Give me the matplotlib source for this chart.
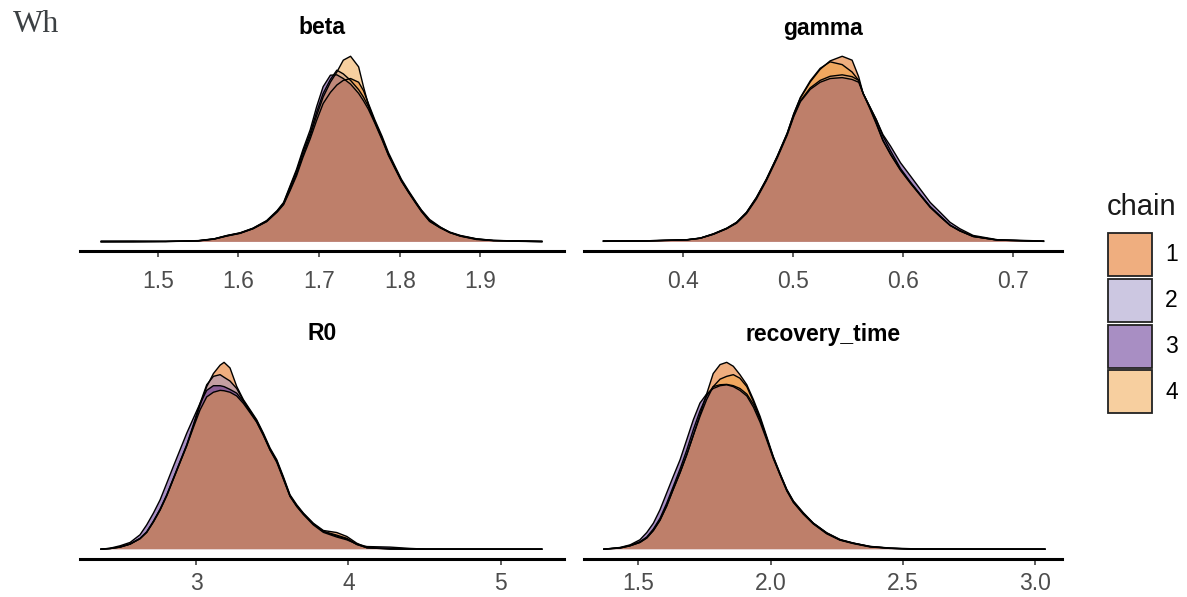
import numpy as np
import matplotlib
matplotlib.use("Agg")
import matplotlib.pyplot as plt
from matplotlib.patches import Patch
from matplotlib.transforms import Bbox

plt.rcParams['font.family'] = ['Liberation Sans', 'DejaVu Sans']

# chain colours (drawn at alpha 0.5, as in the bayesplot overlay)
chain_labels = ['1', '2', '3', '4']
chain_colors = ['#e15f01', '#9b91c5', '#531f89', '#f1a141']

# ---- beta ----
beta_x = [1.430, 1.470, 1.510, 1.550, 1.570, 1.586, 1.602, 1.618, 1.635, 1.648,
          1.656, 1.664, 1.672, 1.680, 1.689, 1.697, 1.705, 1.714, 1.722, 1.730,
          1.739, 1.749, 1.755, 1.761, 1.769, 1.778, 1.786, 1.794, 1.802, 1.811,
          1.819, 1.827, 1.837, 1.850, 1.862, 1.875, 1.895, 1.916, 1.950, 1.976]
beta_c1 = [0.000, 0.001, 0.002, 0.005, 0.015, 0.032, 0.046, 0.070, 0.108, 0.160,
           0.200, 0.275, 0.355, 0.455, 0.555, 0.655, 0.745, 0.805, 0.845, 0.870,
           0.880, 0.860, 0.815, 0.747, 0.658, 0.569, 0.480, 0.408, 0.337, 0.274,
           0.221, 0.168, 0.114, 0.078, 0.052, 0.034, 0.016, 0.007, 0.003, 0.000]
beta_c2 = [0.000, 0.000, 0.001, 0.005, 0.015, 0.033, 0.047, 0.072, 0.112, 0.165,
           0.208, 0.295, 0.380, 0.485, 0.585, 0.700, 0.800, 0.875, 0.925, 0.905,
           0.870, 0.820, 0.780, 0.730, 0.645, 0.555, 0.468, 0.398, 0.328, 0.265,
           0.212, 0.162, 0.110, 0.075, 0.049, 0.031, 0.014, 0.006, 0.002, 0.000]
beta_c3 = [0.004, 0.004, 0.002, 0.006, 0.016, 0.034, 0.048, 0.073, 0.114, 0.168,
           0.212, 0.301, 0.390, 0.497, 0.604, 0.729, 0.836, 0.898, 0.900, 0.880,
           0.850, 0.800, 0.760, 0.715, 0.640, 0.550, 0.465, 0.395, 0.327, 0.266,
           0.217, 0.170, 0.120, 0.080, 0.050, 0.030, 0.012, 0.006, 0.005, 0.002]
beta_c4 = [0.000, 0.000, 0.001, 0.004, 0.014, 0.031, 0.045, 0.070, 0.110, 0.162,
           0.204, 0.282, 0.365, 0.468, 0.572, 0.680, 0.780, 0.860, 0.915, 0.979,
           1.000, 0.943, 0.836, 0.740, 0.650, 0.560, 0.472, 0.400, 0.330, 0.268,
           0.215, 0.163, 0.110, 0.076, 0.050, 0.032, 0.015, 0.007, 0.004, 0.003]

# ---- gamma ----
gamma_x = [0.328, 0.367, 0.404, 0.416, 0.428, 0.440, 0.449, 0.458, 0.467, 0.476,
           0.486, 0.495, 0.501, 0.507, 0.516, 0.525, 0.534, 0.545, 0.554, 0.560,
           0.564, 0.570, 0.576, 0.582, 0.589, 0.598, 0.607, 0.616, 0.625, 0.634,
           0.643, 0.652, 0.664, 0.686, 0.728]
gamma_c1 = [0.004, 0.005, 0.011, 0.020, 0.043, 0.073, 0.105, 0.159, 0.239, 0.337,
            0.462, 0.586, 0.690, 0.775, 0.862, 0.930, 0.975, 1.000, 0.979, 0.889,
            0.800, 0.720, 0.635, 0.545, 0.470, 0.385, 0.315, 0.250, 0.185, 0.135,
            0.088, 0.058, 0.028, 0.009, 0.002]
gamma_c2 = [0.003, 0.004, 0.010, 0.019, 0.041, 0.071, 0.102, 0.155, 0.235, 0.333,
            0.458, 0.580, 0.680, 0.760, 0.830, 0.870, 0.892, 0.900, 0.890, 0.870,
            0.800, 0.729, 0.658, 0.570, 0.490, 0.395, 0.322, 0.255, 0.190, 0.140,
            0.090, 0.060, 0.029, 0.009, 0.002]
gamma_c3 = [0.004, 0.005, 0.011, 0.019, 0.040, 0.070, 0.100, 0.152, 0.230, 0.328,
            0.452, 0.575, 0.675, 0.755, 0.822, 0.860, 0.880, 0.885, 0.875, 0.860,
            0.800, 0.729, 0.658, 0.578, 0.515, 0.426, 0.355, 0.283, 0.212, 0.159,
            0.105, 0.070, 0.034, 0.011, 0.004]
gamma_c4 = [0.002, 0.004, 0.010, 0.019, 0.042, 0.072, 0.104, 0.157, 0.237, 0.335,
            0.460, 0.584, 0.690, 0.778, 0.868, 0.935, 0.970, 0.955, 0.915, 0.870,
            0.800, 0.725, 0.640, 0.548, 0.472, 0.388, 0.318, 0.252, 0.187, 0.137,
            0.089, 0.059, 0.029, 0.009, 0.003]

# ---- R0 ----
r0_x = [2.376, 2.435, 2.501, 2.567, 2.632, 2.676, 2.720, 2.764, 2.808, 2.851,
        2.895, 2.939, 2.982, 3.026, 3.070, 3.114, 3.158, 3.184, 3.223, 3.267,
        3.311, 3.355, 3.398, 3.442, 3.486, 3.530, 3.573, 3.617, 3.661, 3.705,
        3.770, 3.836, 3.924, 3.990, 4.055, 4.121, 4.274, 4.405, 4.515, 5.270]
r0_c1 = [0.000, 0.003, 0.011, 0.027, 0.056, 0.090, 0.146, 0.210, 0.287, 0.375,
         0.465, 0.554, 0.660, 0.770, 0.870, 0.940, 0.985, 1.000, 0.970, 0.871,
         0.800, 0.746, 0.693, 0.621, 0.541, 0.479, 0.389, 0.291, 0.238, 0.193,
         0.139, 0.100, 0.089, 0.068, 0.032, 0.008, 0.000, 0.000, 0.000, 0.000]
r0_c2 = [0.000, 0.004, 0.012, 0.028, 0.058, 0.093, 0.150, 0.215, 0.292, 0.380,
         0.470, 0.560, 0.665, 0.780, 0.880, 0.925, 0.934, 0.920, 0.900, 0.860,
         0.795, 0.740, 0.688, 0.615, 0.535, 0.472, 0.382, 0.285, 0.232, 0.188,
         0.135, 0.095, 0.070, 0.055, 0.025, 0.008, 0.004, 0.002, 0.001, 0.000]
r0_c3 = [0.000, 0.005, 0.018, 0.036, 0.077, 0.130, 0.193, 0.264, 0.354, 0.443,
         0.532, 0.621, 0.700, 0.780, 0.850, 0.875, 0.875, 0.870, 0.855, 0.835,
         0.790, 0.735, 0.682, 0.610, 0.530, 0.465, 0.375, 0.282, 0.228, 0.185,
         0.130, 0.090, 0.065, 0.050, 0.028, 0.014, 0.011, 0.004, 0.000, 0.000]
r0_c4 = [0.000, 0.003, 0.011, 0.027, 0.056, 0.090, 0.146, 0.210, 0.287, 0.375,
         0.465, 0.554, 0.650, 0.745, 0.815, 0.840, 0.850, 0.848, 0.840, 0.820,
         0.780, 0.730, 0.680, 0.610, 0.532, 0.470, 0.380, 0.285, 0.232, 0.190,
         0.135, 0.095, 0.075, 0.058, 0.026, 0.008, 0.002, 0.000, 0.000, 0.000]

# ---- recovery_time ----
rt_x = [1.370, 1.431, 1.469, 1.506, 1.532, 1.557, 1.582, 1.607, 1.632, 1.658,
        1.683, 1.708, 1.733, 1.758, 1.783, 1.809, 1.834, 1.859, 1.884, 1.910,
        1.935, 1.960, 1.985, 2.010, 2.035, 2.061, 2.086, 2.123, 2.161, 2.212,
        2.262, 2.312, 2.375, 2.451, 2.539, 3.036]
rt_c1 = [0.000, 0.006, 0.018, 0.036, 0.060, 0.100, 0.155, 0.230, 0.320, 0.410,
         0.505, 0.610, 0.720, 0.830, 0.940, 0.988, 1.000, 0.979, 0.934, 0.880,
         0.800, 0.711, 0.604, 0.496, 0.407, 0.318, 0.255, 0.193, 0.139, 0.086,
         0.050, 0.032, 0.014, 0.005, 0.000, 0.000]
rt_c2 = [0.000, 0.008, 0.020, 0.040, 0.065, 0.108, 0.165, 0.245, 0.335, 0.430,
         0.530, 0.640, 0.740, 0.820, 0.870, 0.880, 0.882, 0.875, 0.860, 0.830,
         0.775, 0.695, 0.595, 0.492, 0.405, 0.320, 0.258, 0.196, 0.140, 0.088,
         0.052, 0.033, 0.015, 0.006, 0.002, 0.000]
rt_c3 = [0.000, 0.009, 0.023, 0.050, 0.089, 0.139, 0.211, 0.300, 0.389, 0.479,
         0.586, 0.693, 0.782, 0.830, 0.860, 0.875, 0.880, 0.870, 0.850, 0.820,
         0.760, 0.680, 0.585, 0.485, 0.400, 0.315, 0.252, 0.190, 0.138, 0.085,
         0.050, 0.032, 0.014, 0.005, 0.000, 0.000]
rt_c4 = [0.000, 0.006, 0.018, 0.036, 0.060, 0.100, 0.155, 0.230, 0.320, 0.410,
         0.505, 0.610, 0.710, 0.800, 0.870, 0.910, 0.925, 0.934, 0.915, 0.870,
         0.790, 0.700, 0.595, 0.490, 0.400, 0.312, 0.250, 0.188, 0.135, 0.082,
         0.048, 0.030, 0.012, 0.004, 0.000, 0.000]

params = ['beta', 'gamma', 'R0', 'recovery_time']
grids = [beta_x, gamma_x, r0_x, rt_x]
chains = [[beta_c1, beta_c2, beta_c3, beta_c4],
          [gamma_c1, gamma_c2, gamma_c3, gamma_c4],
          [r0_c1, r0_c2, r0_c3, r0_c4],
          [rt_c1, rt_c2, rt_c3, rt_c4]]
ticks = [[1.5, 1.6, 1.7, 1.8, 1.9], [0.4, 0.5, 0.6, 0.7], [3, 4, 5], [1.5, 2.0, 2.5, 3.0]]
tick_labels = [['1.5', '1.6', '1.7', '1.8', '1.9'], ['0.4', '0.5', '0.6', '0.7'],
               ['3', '4', '5'], ['1.5', '2.0', '2.5', '3.0']]
xlims = [(1.4037, 2.0035), (0.3103, 0.7448), (2.238, 5.416), (1.2949, 3.1007)]

W, H = 1187, 597
fig = plt.figure(figsize=(W / 100, H / 100), dpi=100)
boxes = [(80, 47, 564, 251), (584, 47, 1062, 251),
         (80, 353, 564, 558.5), (584, 353, 1062, 558.5)]

for i, p in enumerate(params):
    l, t, r, b = boxes[i]
    ax = fig.add_axes([l / W, 1 - b / H, (r - l) / W, (b - t) / H])
    x = np.array(grids[i])
    for c in range(4):
        y = np.array(chains[i][c])
        ax.fill_between(x, 0, y, facecolor=chain_colors[c], alpha=0.5, linewidth=0)
        ax.plot(x, y, color='black', lw=1.0)
    ax.set_xlim(*xlims[i])
    ax.set_ylim(-0.05, 1.05)
    ax.set_yticks([])
    for s in ['left', 'right', 'top']:
        ax.spines[s].set_visible(False)
    ax.spines['bottom'].set_linewidth(2.2)
    ax.set_xticks(ticks[i])
    ax.set_xticklabels(tick_labels[i])
    ax.tick_params(axis='x', length=4, width=1.1, color='#333333',
                   labelsize=16.5, labelcolor='#4d4d4d', pad=10 if i < 2 else 6)
    ax.set_title(p, fontsize=16.5, fontweight='bold', pad=9)
    ax.patch.set_alpha(0)

# legend: title as its own text, keys below it
fig.text(1107 / W, 1 - 215 / H, 'chain', fontsize=21, color='#1a1a1a', va='baseline')
handles = [Patch(facecolor=matplotlib.colors.to_rgba(c, 0.5), edgecolor='#222222',
                 linewidth=1.3) for c in chain_colors]
fig.legend(handles, chain_labels, loc='upper left',
           bbox_to_anchor=(1108 / W, 1 - 233 / H), frameon=False,
           fontsize=16.5, handlelength=1.9, handleheight=2.5, labelspacing=0.13,
           handletextpad=0.6, borderpad=0, borderaxespad=0)

wh = fig.text(13 / W, 1 - 32 / H, 'Wh', family=['Liberation Serif', 'DejaVu Serif'],
              fontsize=23, color='#3c4043', va='baseline')
wh.set_clip_box(Bbox.from_extents(0, 0, 58, H))
wh.set_clip_on(True)

fig.savefig('out.png', dpi=100)
